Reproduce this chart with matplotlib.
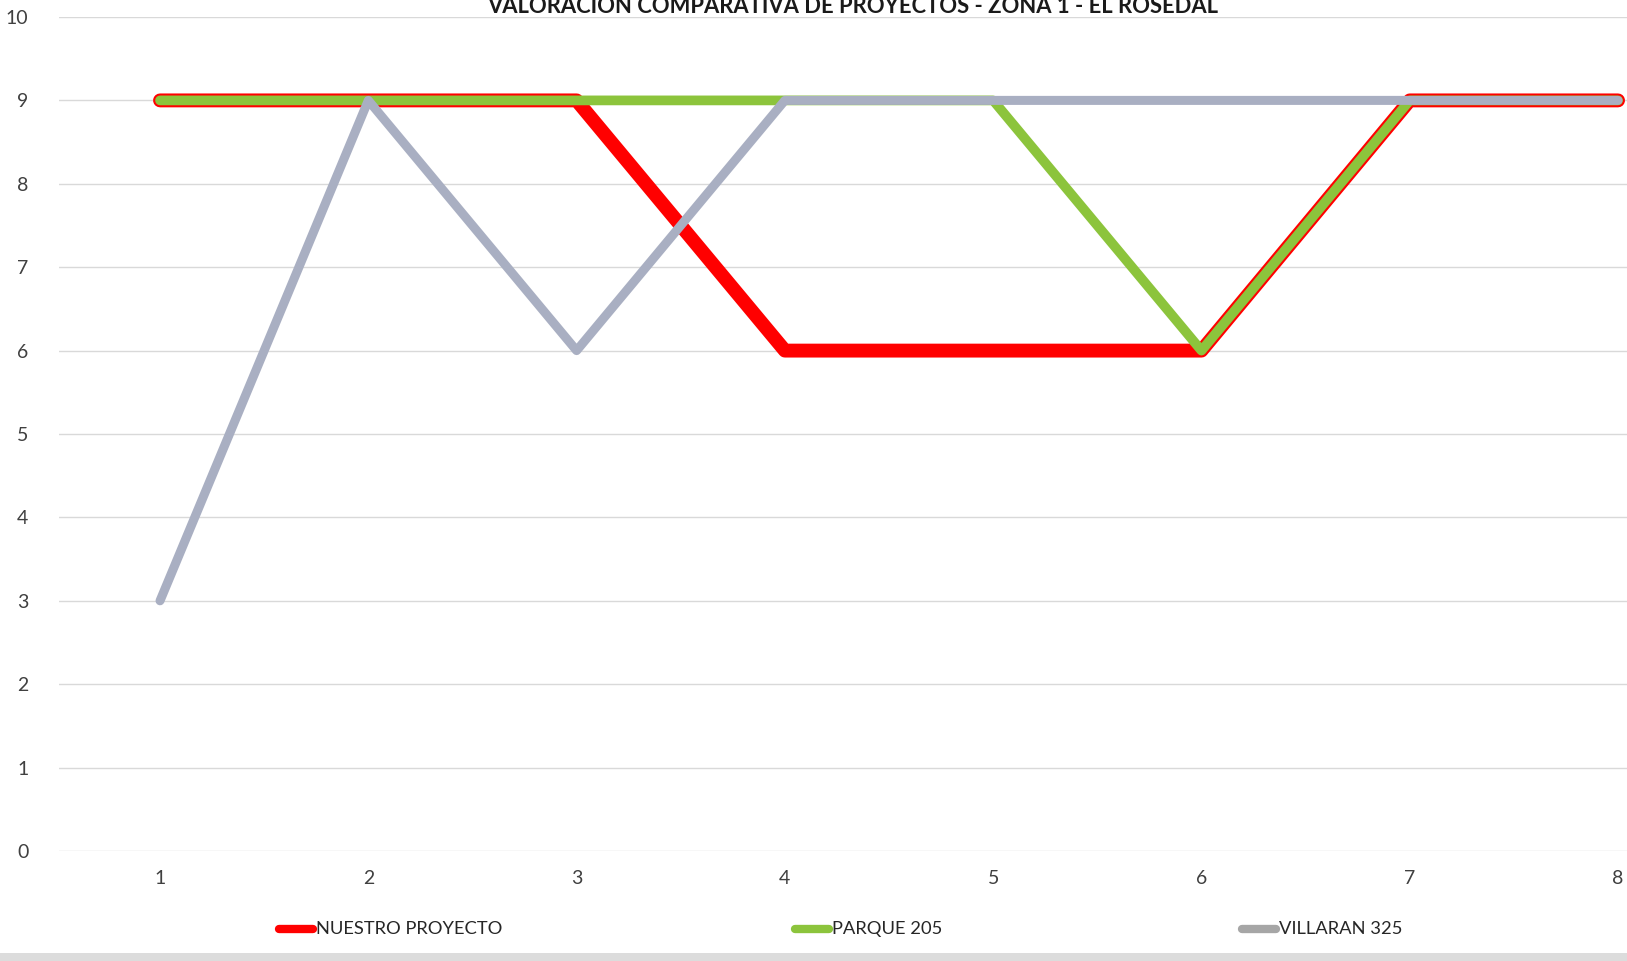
import matplotlib.pyplot as plt
from matplotlib.patches import Rectangle

# -----------------------------
# DATA
# -----------------------------
criterios = [1, 2, 3, 4, 5, 6, 7, 8]
nuestro_proyecto = [9, 9, 9, 6, 6, 6, 9, 9]
parque_205 = [9, 9, 9, 9, 9, 6, 9, 9]
villaran_325 = [3, 9, 6, 9, 9, 9, 9, 9]
y_ticks = list(range(0, 11))

titulo = "VALORACION COMPARATIVA DE PROYECTOS - ZONA 1 - EL ROSEDAL"

plt.rcParams['font.family'] = ['Lato', 'DejaVu Sans']

W, H = 1627, 961
fig = plt.figure(figsize=(W / 100, H / 100), dpi=100)
fig.patch.set_facecolor("white")

ax = fig.add_axes([59 / W, 1 - 851 / H, 1 - 59 / W, (851 - 17) / H])
ax.set_xlim(0.515, 8.043)
ax.set_ylim(0, 10)

# -----------------------------
# LINES
# -----------------------------
ax.plot(criterios, nuestro_proyecto, color="#ff0000", lw=10,
        solid_capstyle="round", solid_joinstyle="round", zorder=3,
        label="NUESTRO PROYECTO")
ax.plot(criterios, parque_205, color="#8cc43c", lw=7,
        solid_capstyle="round", solid_joinstyle="round", zorder=4,
        label="PARQUE 205")
ax.plot(criterios, villaran_325, color="#a9afc2", lw=6.5,
        solid_capstyle="round", solid_joinstyle="round", zorder=5,
        label="VILLARAN 325")

# -----------------------------
# AXES STYLE
# -----------------------------
ax.set_yticks(y_ticks)
ax.set_xticks(criterios)
ax.grid(axis="y", color="#d9d9d9", lw=1.0)
ax.set_axisbelow(True)
for s in ax.spines.values():
    s.set_visible(False)
ax.tick_params(length=0, labelsize=14, colors="#404040")
ax.tick_params(axis="y", pad=22)
ax.tick_params(axis="x", pad=14)

fig.text(853 / W, 1 - 13 / H, titulo, ha="center", va="baseline",
         fontsize=15.8, fontweight="bold", color="#1a1a1a")

# legend, placed by hand
leg = [("NUESTRO PROYECTO", "#ff0000", 275), ("PARQUE 205", "#8cc43c", 791),
       ("VILLARAN 325", "#a6a6a6", 1238)]
for name, col, x0 in leg:
    fig.add_artist(plt.Line2D([(x0 + 4) / W, (x0 + 38) / W], [1 - 929 / H] * 2,
                              color=col, lw=6, solid_capstyle="round",
                              transform=fig.transFigure))
    fig.text((x0 + 41) / W, 1 - 929 / H, name, ha="left", va="center",
             fontsize=13.2, color="#262626")

# bottom grey band
fig.add_artist(Rectangle((0, 0), 1, 8 / H, transform=fig.transFigure,
                         color="#dcdcdc", lw=0))

fig.savefig("out.png", dpi=100)
